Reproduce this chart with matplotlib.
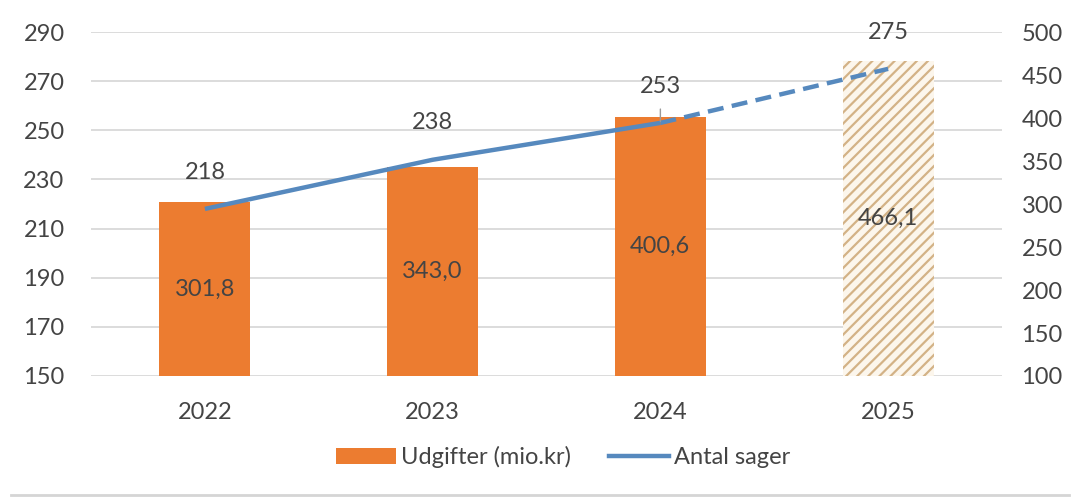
import matplotlib.pyplot as plt
from matplotlib.patches import Patch
from matplotlib.lines import Line2D

# -->> Data <<-------------------------

years = ["2022", "2023", "2024", "2025"]
udgifter = [301.8, 343.0, 400.6, 466.1]       # mio. kr, right axis
antal_sager = [218, 238, 253, 275]            # left axis
udgifter_labels = ["301,8", "343,0", "400,6", "466,1"]

left_ticks = [150, 170, 190, 210, 230, 250, 270, 290]
right_ticks = [100, 150, 200, 250, 300, 350, 400, 450, 500]

# -->> Styles <<-----------------------

ORANGE = "#EC7C30"
BLUE = "#5689BE"
TEXT = "#444444"
GRID = "#D9D9D9"
FS = 17

plt.rcParams["font.family"] = ["Lato", "DejaVu Sans"]
plt.rcParams["hatch.linewidth"] = 1.6

fig = plt.figure(figsize=(10.8, 4.99), dpi=100)
rect = [91 / 1080, 1 - 376 / 499, (1002 - 91) / 1080, (376 - 32) / 499]

# base axes: left ticks + gridlines
ax = fig.add_axes(rect)
ax.set_ylim(150, 290)
ax.set_xlim(-0.5, 3.5)
ax.set_yticks(left_ticks)
ax.grid(axis="y", color=GRID, linewidth=1.3)
ax.set_axisbelow(True)
x = list(range(len(years)))
ax.set_xticks(x)
ax.set_xticklabels(years)
ax.tick_params(axis="both", length=0, labelsize=FS, colors=TEXT)
ax.tick_params(axis="x", pad=19)
ax.tick_params(axis="y", pad=19)
for s in ax.spines.values():
    s.set_visible(False)

# bars on right axis
ax2 = ax.twinx()
ax2.set_ylim(100, 500)
ax2.set_yticks(right_ticks)
ax2.tick_params(axis="y", length=0, labelsize=FS, colors=TEXT, pad=14)
for s in ax2.spines.values():
    s.set_visible(False)

bar_w = 0.40
for i, (xi, v) in enumerate(zip(x, udgifter)):
    if i < 3:
        ax2.bar(xi, v - 100, bottom=100, width=bar_w, color=ORANGE, linewidth=0)
    else:
        ax2.bar(xi, v - 100, bottom=100, width=bar_w, facecolor="#FCF6EC",
                edgecolor="#D3B286", hatch="///", linewidth=0)
    ax2.text(xi, 100 + (v - 100) / 2, udgifter_labels[i], ha="center",
             va="center", fontsize=FS, color=TEXT)

# line on left scale, on top
ax3 = ax.twinx()
ax3.set_ylim(ax.get_ylim())
ax3.set_yticks([])
for s in ax3.spines.values():
    s.set_visible(False)
ax3.plot(x[:3], antal_sager[:3], color=BLUE, linewidth=3.2,
         solid_capstyle="butt")
ax3.plot(x[2:], antal_sager[2:], color=BLUE, linewidth=3.2,
         dashes=(3.6, 1.9), dash_capstyle="butt")

for i, (xi, v) in enumerate(zip(x, antal_sager)):
    if i == 2:
        ax3.annotate(str(v), xy=(xi, v), xytext=(xi, v + 15), ha="center",
                     va="center", fontsize=FS, color=TEXT,
                     arrowprops=dict(arrowstyle="-", color="#9A9A9A",
                                     linewidth=1, shrinkA=7, shrinkB=1))
    else:
        ax3.text(xi, v + 15, str(v), ha="center", va="center",
                 fontsize=FS, color=TEXT)

handles = [
    Patch(facecolor=ORANGE, edgecolor="none"),
    Line2D([0], [0], color=BLUE, linewidth=3.2),
]
fig.legend(handles, ["Udgifter (mio.kr)", "Antal sager"], loc="center",
           bbox_to_anchor=(563 / 1080, 1 - 457 / 499), ncol=2, frameon=False,
           fontsize=FS, handlelength=2.55, handletextpad=0.2,
           columnspacing=1.6, labelcolor=TEXT)

# bottom table border from the source document
fig.add_artist(Line2D([0.01, 0.99], [0.008, 0.008], color="#D5D5D5",
                      linewidth=2, transform=fig.transFigure))

fig.savefig("out.png", dpi=100)
